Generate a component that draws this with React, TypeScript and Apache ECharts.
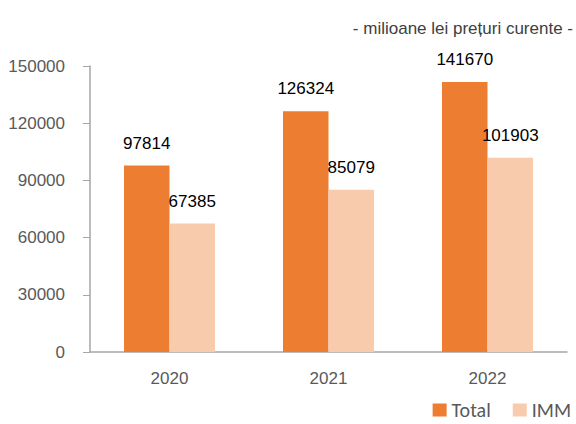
import React, { useEffect, useRef } from "react";
import * as echarts from "echarts";

const categories = ["2020", "2021", "2022"];
const totalValues = [97814, 126324, 141670];
const immValues = [67385, 85079, 101903];
const seriesNames = ["Total", "IMM"];
const subtitle = "- milioane lei prețuri curente -";

const FONT = "'Liberation Sans', Arial, sans-serif";

export default function App() {
  const ref = useRef<HTMLDivElement>(null);
  useEffect(() => {
    if (!ref.current) return;
    const chart = echarts.init(ref.current, undefined, { renderer: "svg" });
    const labelStyle = {
      show: true,
      position: "top" as const,
      distance: 14,
      color: "#000000",
      fontFamily: FONT,
      fontSize: 17,
    };
    chart.setOption({
      animation: false,
      backgroundColor: "#ffffff",
      title: {
        text: subtitle,
        right: -2,
        top: 15,
        textStyle: { fontFamily: FONT, fontSize: 17, fontWeight: "normal", color: "#404040" },
      },
      legend: {
        right: 0,
        top: 394,
        itemWidth: 14,
        itemHeight: 13,
        itemGap: 22,
        icon: "rect",
        textStyle: { fontFamily: "Carlito, Calibri, Lato, sans-serif", fontSize: 20, color: "#595959", lineHeight: 22 },
        data: seriesNames,
      },
      grid: { left: 90, right: 9, top: 66, bottom: 72, containLabel: false, outerBoundsMode: "none" },
      xAxis: {
        type: "category",
        data: categories,
        axisLine: { show: true, lineStyle: { color: "#a6a6a6", width: 1.5 } },
        axisTick: { show: false },
        axisLabel: { margin: 18, color: "#595959", fontFamily: FONT, fontSize: 17 },
      },
      yAxis: {
        type: "value",
        min: 0,
        max: 150000,
        interval: 30000,
        axisLine: { show: true, lineStyle: { color: "#a6a6a6", width: 1.5 } },
        axisTick: { show: true, inside: false, length: 7, lineStyle: { color: "#a6a6a6" } },
        splitLine: { show: false },
        axisLabel: { margin: 25, color: "#595959", fontFamily: FONT, fontSize: 17, formatter: (v: number) => String(v) },
      },
      series: [
        {
          name: seriesNames[0],
          type: "bar",
          data: totalValues,
          barWidth: 45.5,
          barGap: "0%",
          itemStyle: { color: "#ED7D31" },
          label: labelStyle,
        },
        {
          name: seriesNames[1],
          type: "bar",
          data: immValues,
          barWidth: 45.5,
          barGap: "0%",
          itemStyle: { color: "#F8CBAD" },
          label: labelStyle,
        },
      ],
    });
    return () => chart.dispose();
  }, []);
  return <div ref={ref} style={{ width: 576, height: 424, position: "absolute", left: 0, top: 0 }} />;
}
